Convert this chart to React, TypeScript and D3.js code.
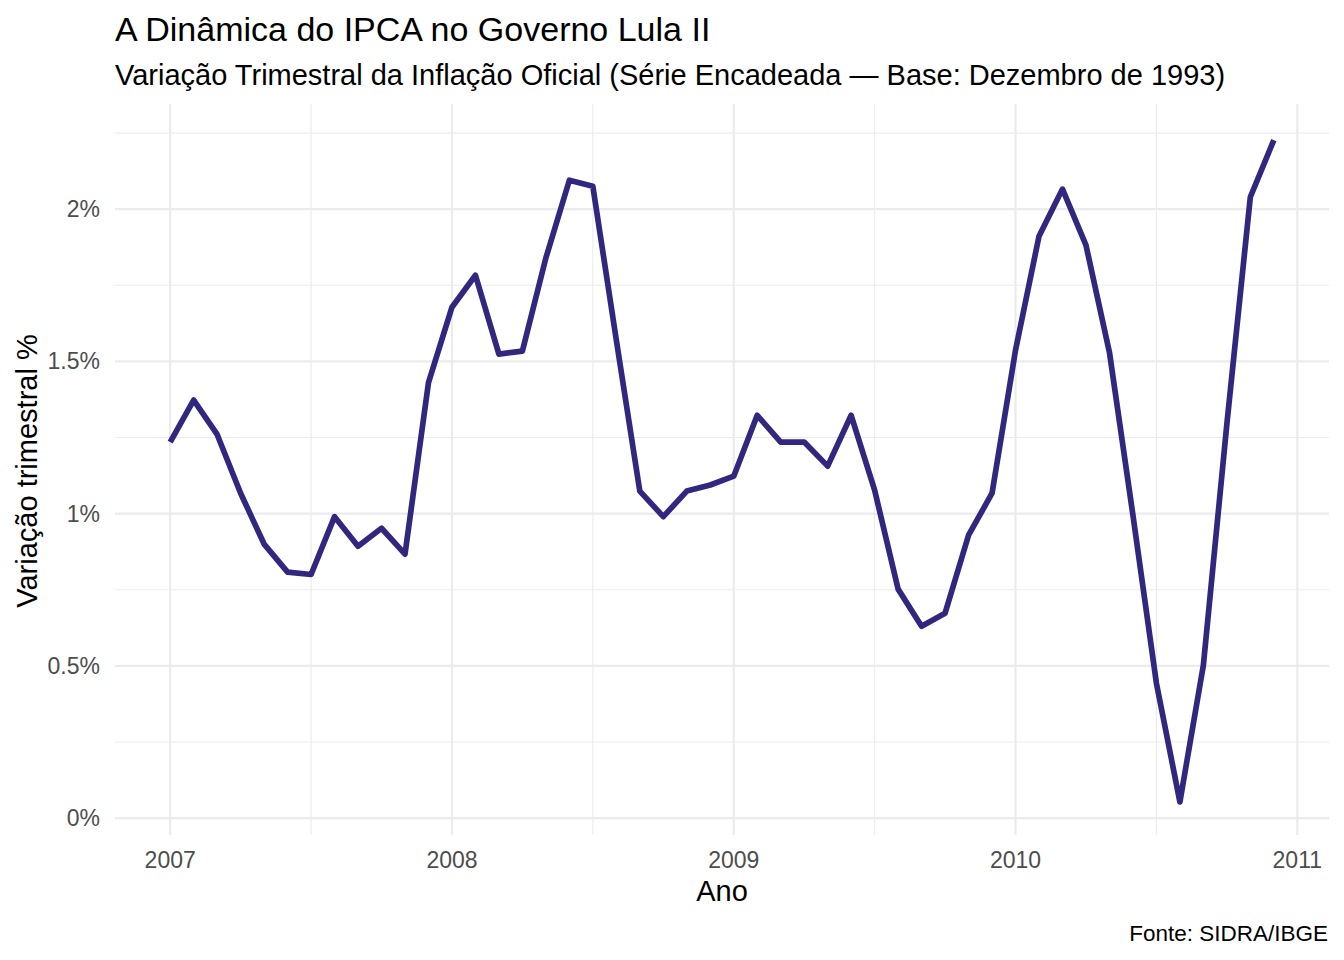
import React from "react";
import * as d3 from "d3";

const startYear = 2007;
const values: number[] = [
  1.235, 1.373, 1.26, 1.067, 0.9, 0.808, 0.8, 0.99, 0.893, 0.952, 0.867, 1.43,
  1.678, 1.783, 1.524, 1.534, 1.84, 2.095, 2.075, 1.57, 1.074, 0.99, 1.074, 1.094,
  1.123, 1.323, 1.235, 1.235, 1.156, 1.323, 1.077, 0.752, 0.63, 0.673, 0.929, 1.067,
  1.537, 1.911, 2.066, 1.882, 1.53, 0.995, 0.443, 0.053, 0.502, 1.294, 2.04, 2.227,
];
const xTicks = [2007, 2008, 2009, 2010, 2011];
const xMinor = [2007.5, 2008.5, 2009.5, 2010.5];
const yTicks = [0, 0.5, 1, 1.5, 2];
const yMinor = [0.25, 0.75, 1.25, 1.75, 2.25];

const title = "A Dinâmica do IPCA no Governo Lula II";
const subtitle = "Variação Trimestral da Inflação Oficial (Série Encadeada — Base: Dezembro de 1993)";
const caption = "Fonte: SIDRA/IBGE";
const xLabel = "Ano";
const yLabel = "Variação trimestral %";

const data = values.map((v, i) => ({ t: startYear + i / 12, v }));

export default function App() {
  const W = 1344, H = 960;
  const left = 115, right = 1329, top = 107, bottom = 835;
  const tMin = d3.min(data, d => d.t)!, tMax = d3.max(data, d => d.t)!;
  const tPad = (tMax - tMin) * 0.05;
  const vMin = d3.min(data, d => d.v)!, vMax = d3.max(data, d => d.v)!;
  const vPad = (vMax - vMin) * 0.05;
  const x = d3.scaleLinear().domain([tMin - tPad, tMax + tPad]).range([left, right]);
  const y = d3.scaleLinear().domain([vMin - vPad, vMax + vPad]).range([bottom, top]);
  const line = d3.line<{ t: number; v: number }>().x(d => x(d.t)).y(d => y(d.v));
  const font = "'Liberation Sans', Arial, sans-serif";
  const fmt = (v: number) => `${d3.format("~g")(v)}%`;
  return (
    <svg width={W} height={H} style={{ display: "block", position: "absolute", left: 0, top: 0 }} fontFamily={font}>
      <rect width={W} height={H} fill="#fff" />
      {yMinor.map(v => (
        <line key={"ym" + v} x1={left} x2={right} y1={y(v)} y2={y(v)} stroke="#EBEBEB" strokeWidth={1.1} />
      ))}
      {xMinor.map(v => (
        <line key={"xm" + v} x1={x(v)} x2={x(v)} y1={top - 3} y2={bottom} stroke="#EBEBEB" strokeWidth={1.1} />
      ))}
      {yTicks.map(v => (
        <line key={"y" + v} x1={left} x2={right} y1={y(v)} y2={y(v)} stroke="#EBEBEB" strokeWidth={2.2} />
      ))}
      {xTicks.map(v => (
        <line key={"x" + v} x1={x(v)} x2={x(v)} y1={top - 3} y2={bottom} stroke="#EBEBEB" strokeWidth={2.2} />
      ))}
      <path d={line(data)!} fill="none" stroke="#31277F" strokeWidth={5.7} strokeLinejoin="round" />
      {yTicks.map(v => (
        <text key={"yl" + v} x={100} y={y(v)} dy="0.35em" textAnchor="end" fontSize={23} fill="#4D4D4D">
          {fmt(v)}
        </text>
      ))}
      {xTicks.map(v => (
        <text key={"xl" + v} x={x(v)} y={868} textAnchor="middle" fontSize={23} fill="#4D4D4D">
          {v}
        </text>
      ))}
      <text x={(left + right) / 2} y={901} textAnchor="middle" fontSize={29} fill="#000">{xLabel}</text>
      <text transform={`translate(37, ${(top + bottom) / 2}) rotate(-90)`} textAnchor="middle" fontSize={29} fill="#000">
        {yLabel}
      </text>
      <text x={115} y={41} fontSize={34} fill="#000">{title}</text>
      <text x={115} y={85} fontSize={29} fill="#000">{subtitle}</text>
      <text x={1328} y={941} textAnchor="end" fontSize={22.5} fill="#000">{caption}</text>
    </svg>
  );
}
